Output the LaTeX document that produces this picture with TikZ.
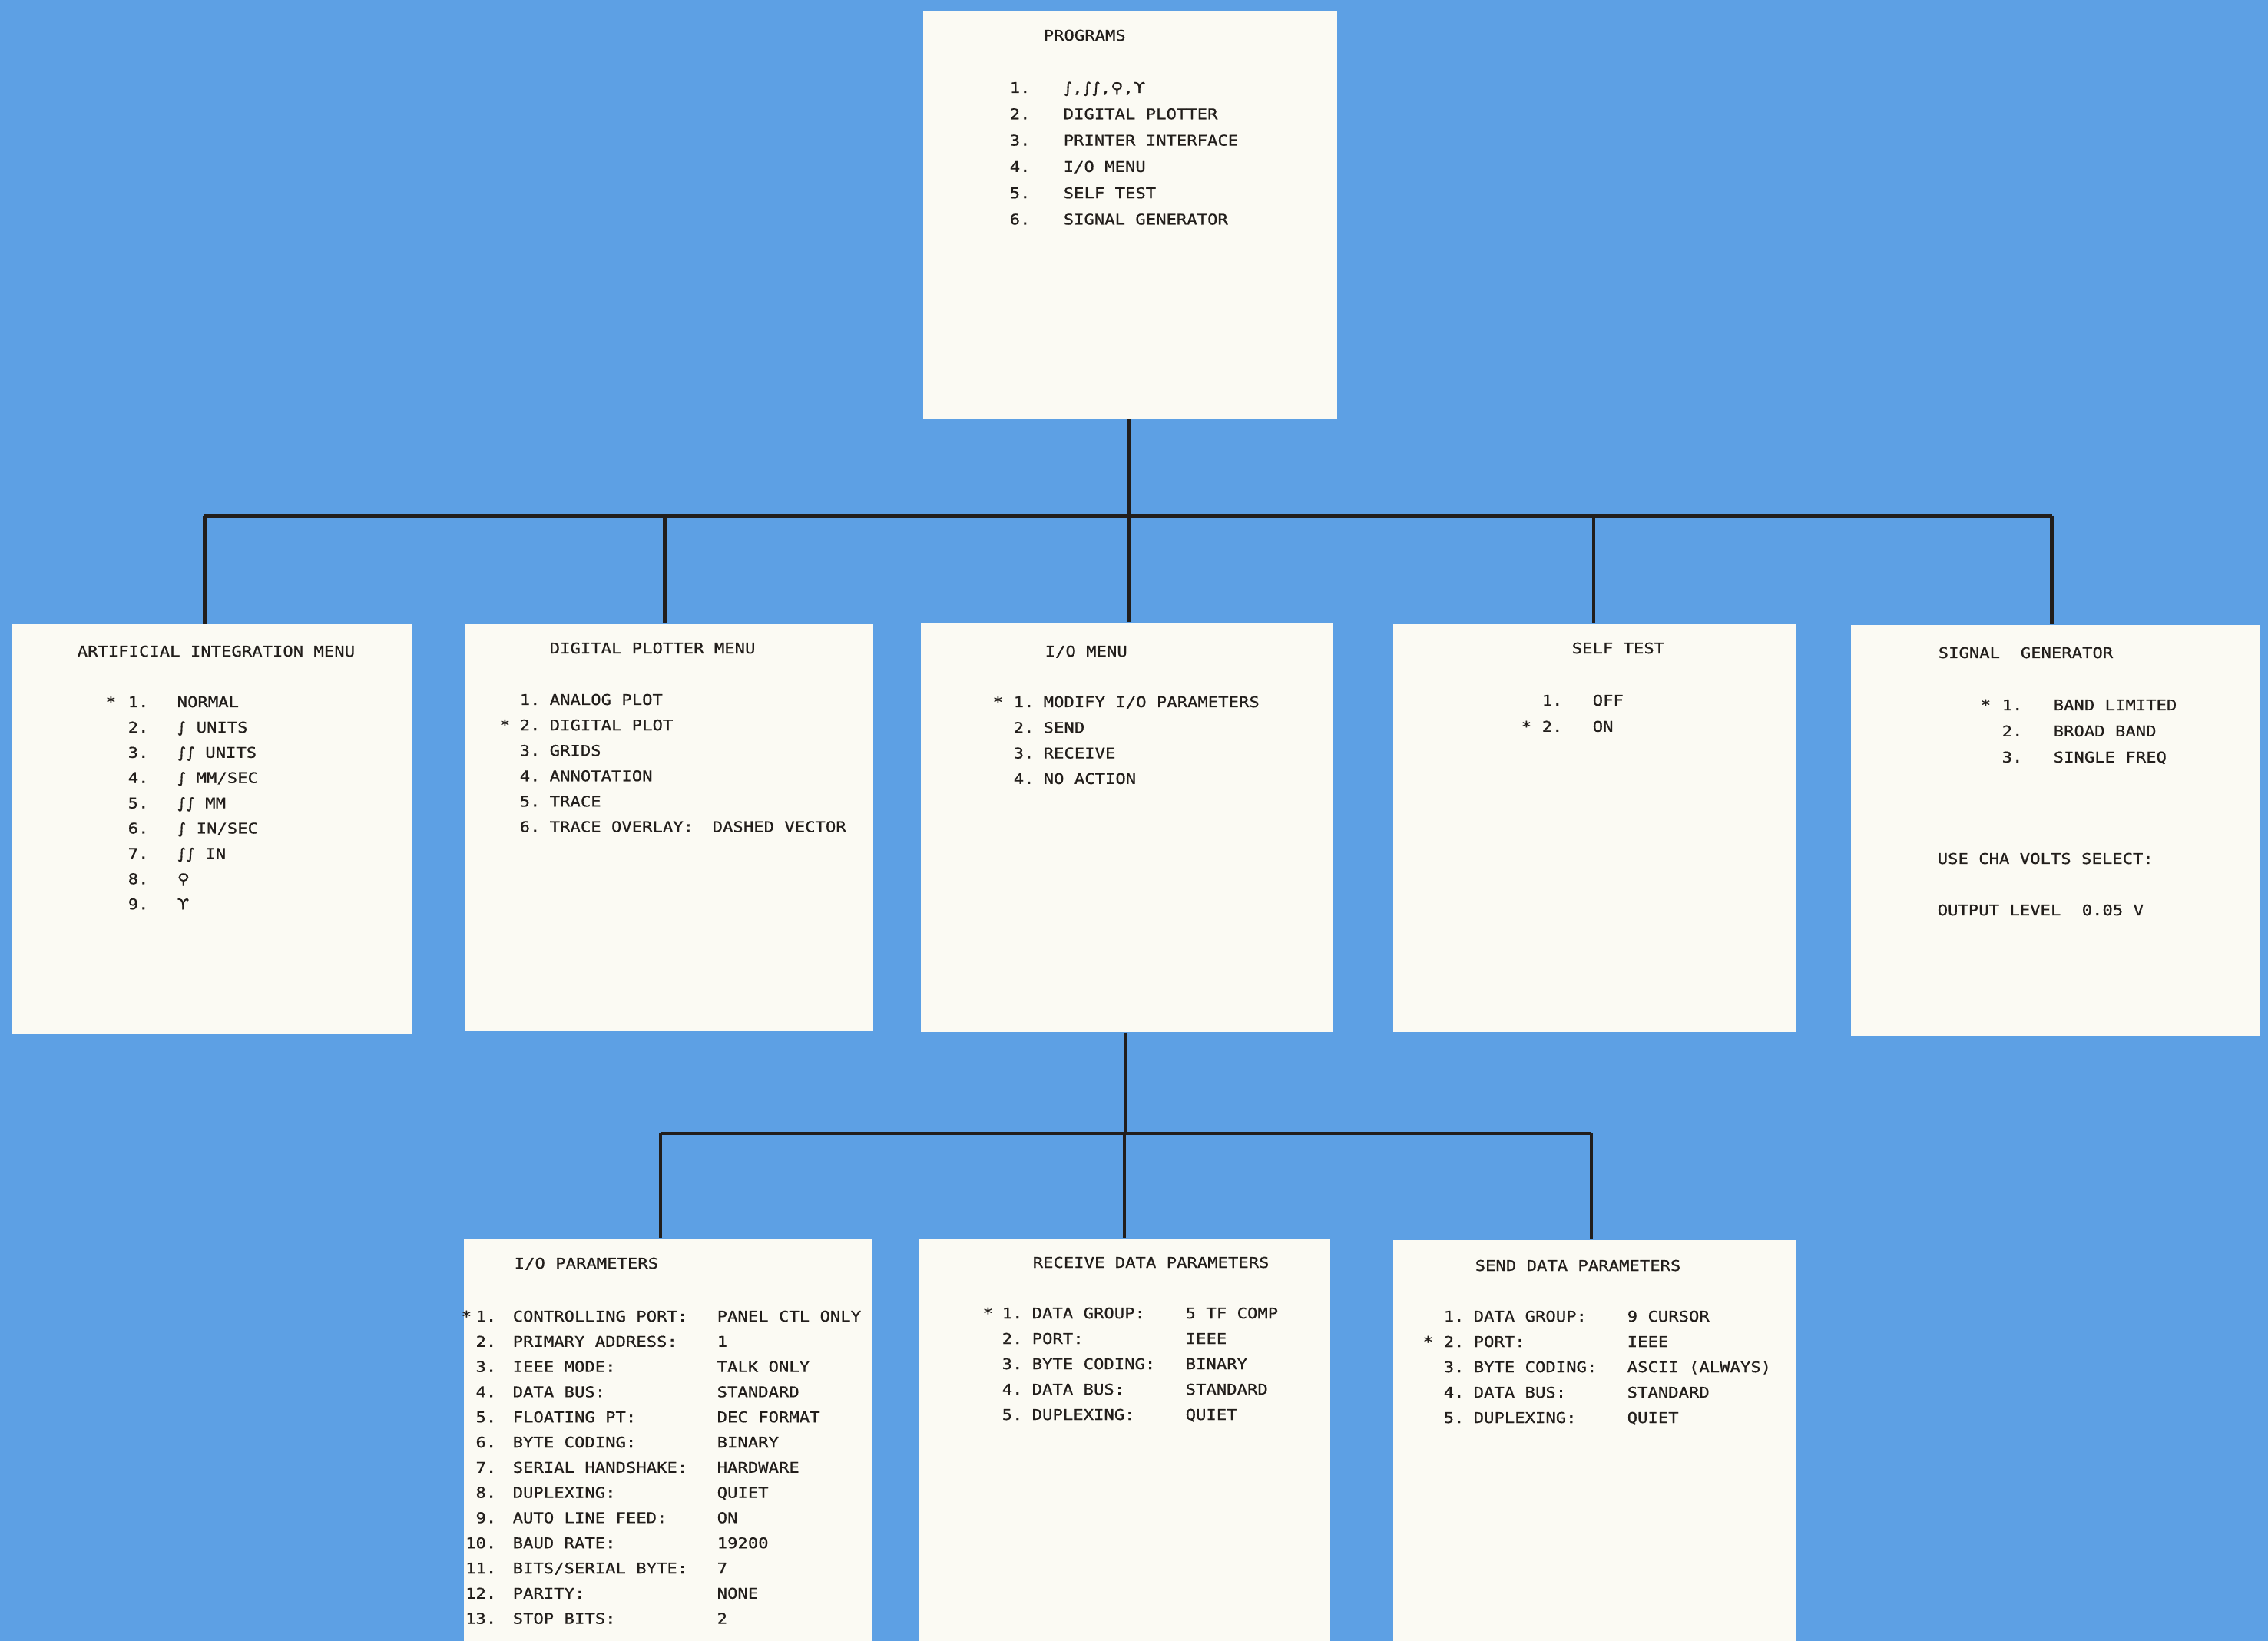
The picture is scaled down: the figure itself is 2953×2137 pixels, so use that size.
\documentclass[tikz,border=0pt]{standalone}
\usepackage{fontspec}
\newfontfamily\plotfont[FakeStretch=1.16,FakeBold=0.6]{DejaVu Sans Mono}
\newfontfamily\symfont[FakeStretch=1.16,FakeBold=0.6]{DejaVu Sans}
\newcommand\sym[1]{{\symfont #1}}
\usetikzlibrary{positioning,calc}
\definecolor{pblue}{HTML}{5DA0E4}
\definecolor{pwhite}{HTML}{FBFAF3}
\definecolor{plotink}{HTML}{221E1B}
\tikzset{
  screen/.style={fill=pwhite,anchor=north west,inner sep=0pt},
  txt/.style={anchor=base west,inner sep=0pt,text=plotink,font=\plotfont\fontsize{5.45}{6}\selectfont},
  rtxt/.style={txt,anchor=base east},
  wire/.style={draw=plotink,line width=1.2pt},
}
\begin{document}
\begin{tikzpicture}[x=0.01cm,y=-0.01cm]
  \fill[pblue] (0,0) rectangle (2953,2137);
  \useasboundingbox (0,0) rectangle (2953,2137);
  % screens
  \node[screen,minimum width=5.39cm,minimum height=5.31cm] (prog) at (1201,13) {};
  \node[screen,minimum width=5.20cm,minimum height=5.33cm] (ai) at (15,812) {};
  \node[screen,minimum width=5.31cm,minimum height=5.30cm] (dp) at (605,811) {};
  \node[screen,minimum width=5.37cm,minimum height=5.33cm] (io) at (1198,810) {};
  \node[screen,minimum width=5.25cm,minimum height=5.32cm] (st) at (1813,811) {};
  \node[screen,minimum width=5.33cm,minimum height=5.35cm] (sg) at (2409,813) {};
  \node[screen,minimum width=5.31cm,minimum height=5.25cm] (iop) at (603,1612) {};
  \node[screen,minimum width=5.35cm,minimum height=5.25cm] (rcv) at (1196,1612) {};
  \node[screen,minimum width=5.24cm,minimum height=5.23cm] (snd) at (1813,1614) {};
  % tree
  \coordinate (bus1) at (0,672);
  \coordinate (bus2) at (0,1476);
  \coordinate (prog-out) at ($(prog.south west)!0.497!(prog.south east)$);
  \coordinate (io-out) at ($(io.south west)!0.495!(io.south east)$);
  \foreach \s/\f in {ai/0.482,dp/0.489,io/0.505,st/0.498,sg/0.491,iop/0.482,rcv/0.5,snd/0.493}
    \coordinate (\s-in) at ($(\s.north west)!\f!(\s.north east)$);
  \draw[wire] (prog-out) -- (prog-out |- bus1);
  \draw[wire] (ai-in |- bus1) -- (sg-in |- bus1);
  \foreach \s in {ai,dp,io,st,sg} \draw[wire] (\s-in |- bus1) -- (\s-in);
  \draw[wire] (io-out) -- (io-out |- bus2);
  \draw[wire] (iop-in |- bus2) -- (snd-in |- bus2);
  \foreach \s in {iop,rcv,snd} \draw[wire] (\s-in |- bus2) -- (\s-in);
  % PROGRAMS
  \node[txt] (progt) at (1358,53) {PROGRAMS};
  \foreach \n/\t [count=\i from 0] in {1./{\sym{∫},\sym{∫∫},\sym{⚲},\sym{ϒ}},2./DIGITAL PLOTTER,3./PRINTER INTERFACE,4./{I/O MENU},5./SELF TEST,6./SIGNAL GENERATOR} {
    \node[txt] (progn\i) at (1314,{121+34.3*\i}) {\n};
    \node[txt] (progi\i) at (1384,{121+34.3*\i}) {\t};
  }
  % ARTIFICIAL INTEGRATION MENU
  \node[txt] (ait) at (100,855) {ARTIFICIAL INTEGRATION MENU};
  \node[txt] (aistar) at (137,921) {*};
  \foreach \n/\t [count=\i from 0] in {1./NORMAL,2./{\sym{∫} UNITS},3./{\sym{∫∫} UNITS},4./{\sym{∫} MM/SEC},5./{\sym{∫∫} MM},6./{\sym{∫} IN/SEC},7./{\sym{∫∫} IN},8./{\sym{⚲}},9./{\sym{ϒ}}} {
    \node[txt] (ain\i) at (166,{921+32.9*\i}) {\n};
    \node[txt] (aii\i) at (230,{921+32.9*\i}) {\t};
  }
  % DIGITAL PLOTTER MENU
  \node[txt] (dpt) at (715,851) {DIGITAL PLOTTER MENU};
  \node[txt] (dpstar) at (650,{918+33.1}) {*};
  \foreach \n/\t [count=\i from 0] in {1./ANALOG PLOT,2./DIGITAL PLOT,3./GRIDS,4./ANNOTATION,5./TRACE,6./TRACE OVERLAY:} {
    \node[txt] (dpn\i) at (676,{918+33.1*\i}) {\n};
    \node[txt] (dpi\i) at (715,{918+33.1*\i}) {\t};
  }
  \node[txt] (dpv) at (927,{918+33.1*5}) {DASHED VECTOR};
  % I/O MENU
  \node[txt] (iot) at (1360,855) {I/O MENU};
  \node[txt] (iostar) at (1292,921) {*};
  \foreach \n/\t [count=\i from 0] in {1./{MODIFY I/O PARAMETERS},2./SEND,3./RECEIVE,4./NO ACTION} {
    \node[txt] (ion\i) at (1319,{921+33.3*\i}) {\n};
    \node[txt] (ioi\i) at (1358,{921+33.3*\i}) {\t};
  }
  % SELF TEST
  \node[txt] (stt) at (2046,851) {SELF TEST};
  \node[txt] (ststar) at (1980,{919+33.9}) {*};
  \foreach \n/\t [count=\i from 0] in {1./OFF,2./ON} {
    \node[txt] (stn\i) at (2007,{919+33.9*\i}) {\n};
    \node[txt] (sti\i) at (2073,{919+33.9*\i}) {\t};
  }
  % SIGNAL GENERATOR
  \node[txt] (sgt) at (2523,857) {SIGNAL\ \ GENERATOR};
  \node[txt] (sgstar) at (2578,925) {*};
  \foreach \n/\t [count=\i from 0] in {1./BAND LIMITED,2./BROAD BAND,3./SINGLE FREQ} {
    \node[txt] (sgn\i) at (2606,{925+33.9*\i}) {\n};
    \node[txt] (sgi\i) at (2673,{925+33.9*\i}) {\t};
  }
  \node[txt] (sguse) at (2522,1125) {USE CHA VOLTS SELECT:};
  \node[txt] (sgout) at (2522,1192) {OUTPUT LEVEL};
  \node[txt] (sgval) at (2710,1192) {0.05 V};
  % I/O PARAMETERS
  \node[txt] (iopt) at (669,1652) {I/O PARAMETERS};
  \node[txt] (iopstar) at (600,1721) {*};
  \foreach \n/\t/\v [count=\i from 0] in {1./CONTROLLING PORT:/PANEL CTL ONLY,2./PRIMARY ADDRESS:/1,3./IEEE MODE:/TALK ONLY,4./DATA BUS:/STANDARD,5./FLOATING PT:/DEC FORMAT,6./BYTE CODING:/BINARY,7./SERIAL HANDSHAKE:/HARDWARE,8./DUPLEXING:/QUIET,9./AUTO LINE FEED:/ON,10./BAUD RATE:/19200,11./{BITS/SERIAL BYTE:}/7,12./PARITY:/NONE,13./STOP BITS:/2} {
    \node[rtxt] (iopn\i) at (647,{1721+32.8*\i}) {\n};
    \node[txt] (iopi\i) at (667,{1721+32.8*\i}) {\t};
    \node[txt] (iopv\i) at (933,{1721+32.8*\i}) {\v};
  }
  % RECEIVE DATA PARAMETERS
  \node[txt] (rcvt) at (1344,1651) {RECEIVE DATA PARAMETERS};
  \node[txt] (rcvstar) at (1279,1717) {*};
  \foreach \n/\t/\v [count=\i from 0] in {1./DATA GROUP:/5 TF COMP,2./PORT:/IEEE,3./BYTE CODING:/BINARY,4./DATA BUS:/STANDARD,5./DUPLEXING:/QUIET} {
    \node[txt] (rcvn\i) at (1304,{1717+33*\i}) {\n};
    \node[txt] (rcvi\i) at (1343,{1717+33*\i}) {\t};
    \node[txt] (rcvv\i) at (1543,{1717+33*\i}) {\v};
  }
  % SEND DATA PARAMETERS
  \node[txt] (sndt) at (1920,1655) {SEND DATA PARAMETERS};
  \node[txt] (sndstar) at (1852,{1721+33}) {*};
  \foreach \n/\t/\v [count=\i from 0] in {1./DATA GROUP:/9 CURSOR,2./PORT:/IEEE,3./BYTE CODING:/ASCII (ALWAYS),4./DATA BUS:/STANDARD,5./DUPLEXING:/QUIET} {
    \node[txt] (sndn\i) at (1879,{1721+33*\i}) {\n};
    \node[txt] (sndi\i) at (1918,{1721+33*\i}) {\t};
    \node[txt] (sndv\i) at (2118,{1721+33*\i}) {\v};
  }
\end{tikzpicture}
\end{document}
